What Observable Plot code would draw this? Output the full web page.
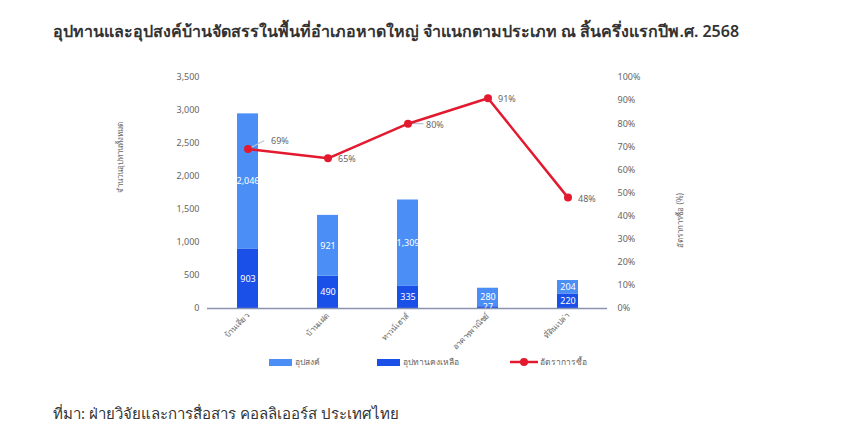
<!DOCTYPE html>
<html><head><meta charset="utf-8">
<script src="https://cdn.jsdelivr.net/npm/d3@7"></script>
<script src="https://cdn.jsdelivr.net/npm/@observablehq/plot@0.6"></script>
<style>
body{margin:0;background:#fff;font-family:"Noto Sans","DejaVu Sans",sans-serif;}
#wrap{position:relative;width:850px;height:442px;overflow:hidden;}
#title{position:absolute;left:53px;top:19px;font-size:16px;font-weight:600;color:#333;white-space:nowrap;}
#chart{position:absolute;left:0;top:60px;}
#legend{position:absolute;top:355px;left:0;width:850px;height:14px;font-size:8.5px;color:#666;}
#legend .item{position:absolute;display:flex;align-items:center;height:14px;}
#legend .sw{width:23px;height:7px;margin-right:3px;}
#source{position:absolute;left:53px;top:402px;font-size:15px;color:#333;white-space:nowrap;}
</style></head>
<body>
<div id="wrap">
  <div id="title"></div>
  <div id="chart"></div>
  <div id="legend"></div>
  <div id="source"></div>
</div>
<script>
const titleText = "อุปทานและอุปสงค์บ้านจัดสรรในพื้นที่อำเภอหาดใหญ่ จำแนกตามประเภท ณ สิ้นครึ่งแรกปีพ.ศ. 2568";
const sourceText = "ที่มา: ฝ่ายวิจัยและการสื่อสาร คอลลิเออร์ส ประเทศไทย";
const categories = ["บ้านเดี่ยว","บ้านแฝด","ทาวน์เฮาส์","อาคารพาณิชย์","ที่ดินเปล่า"];
const seriesNames = ["อุปสงค์","อุปทานคงเหลือ","อัตราการซื้อ"];
const supplyRemaining = [903, 490, 335, 27, 220];
const demand = [2046, 921, 1309, 280, 204];
const purchaseRate = [69, 65, 80, 91, 48];
const leftTicks = [0, 500, 1000, 1500, 2000, 2500, 3000, 3500];
const rightTicks = [0, 10, 20, 30, 40, 50, 60, 70, 80, 90, 100];
const leftTitle = "จำนวนอุปทานทั้งหมด";
const rightTitle = "อัตราการซื้อ (%)";

const colors = {light:"#4b8ff6", dark:"#1a4fe8", red:"#e3192f", grey:"#666", leader:"#b8c4d6"};
const leftMax = 3500, rightMax = 100;
const toLeft = v => v * leftMax / rightMax;

document.getElementById("title").textContent = titleText;
document.getElementById("source").textContent = sourceText;

const rows = [];
categories.forEach((c, i) => {
  rows.push({cat: c, series: seriesNames[1], value: supplyRemaining[i]});
  rows.push({cat: c, series: seriesNames[0], value: demand[i]});
});
const rateRows = categories.map((c, i) => ({cat: c, rate: purchaseRate[i], idx: i}));
// labels that use a callout leader (first and third points), others placed plainly
const calloutUp = rateRows.filter(d => d.idx === 0);
const calloutRight = rateRows.filter(d => d.idx === 2);
const plainLabels = rateRows.filter(d => d.idx !== 0 && d.idx !== 2);

const stackOpts = {x: "cat", y: "value", z: "series", order: [seriesNames[1], seriesNames[0]]};
const leaderShape = {draw(context, l) { context.moveTo(0, 0); context.lineTo(0, -l); }};
const yRate = d => toLeft(d.rate);

const chart = Plot.plot({
  width: 850,
  height: 320,
  marginLeft: 207,
  marginRight: 243,
  marginTop: 17,
  marginBottom: 72,
  style: {fontFamily: "'Noto Sans','DejaVu Sans',sans-serif", fontSize: "9px", color: colors.grey, background: "transparent"},
  x: {type: "band", domain: categories, paddingInner: 0.74, paddingOuter: 0.37, label: null},
  y: {domain: [0, leftMax], label: null},
  color: {domain: [seriesNames[0], seriesNames[1]], range: [colors.light, colors.dark]},
  marks: [
    Plot.barY(rows, Plot.stackY({...stackOpts, fill: "series"})),
    Plot.text(rows, Plot.stackY({...stackOpts, text: d => d3.format(",")(d.value), fill: "white", fontSize: 9})),
    Plot.ruleY([0], {stroke: "#8a93b2", strokeWidth: 1.5}),
    Plot.axisY(leftTicks, {anchor: "left", tickSize: 0, tickPadding: 8, tickFormat: d3.format(","), label: null}),
    Plot.axisY(rightTicks.map(toLeft), {anchor: "right", tickSize: 0, tickPadding: 10, tickFormat: d => Math.round(d * rightMax / leftMax) + "%", label: null}),
    Plot.axisX({tickSize: 0, tickPadding: 6, tickRotate: -45, fontSize: 8, label: null}),
    Plot.text([leftTitle], {frameAnchor: "left", dx: -87, rotate: -90, fontSize: 8, fill: colors.grey}),
    Plot.text([rightTitle], {frameAnchor: "right", dx: 73, rotate: -90, fontSize: 8, fill: colors.grey}),
    Plot.vector(calloutUp, {x: "cat", y: yRate, length: 18, rotate: 62, anchor: "start", shape: leaderShape, stroke: colors.leader, strokeWidth: 1.2}),
    Plot.vector(calloutRight, {x: "cat", y: yRate, length: 15, rotate: 90, anchor: "start", shape: leaderShape, stroke: colors.leader, strokeWidth: 1.2}),
    Plot.line(rateRows, {x: "cat", y: yRate, stroke: colors.red, strokeWidth: 2.5}),
    Plot.dot(rateRows, {x: "cat", y: yRate, fill: colors.red, r: 4}),
    Plot.text(calloutUp, {x: "cat", y: yRate, text: d => d.rate + "%", textAnchor: "start", dx: 23, dy: -8, fontSize: 9, fill: colors.grey}),
    Plot.text(calloutRight, {x: "cat", y: yRate, text: d => d.rate + "%", textAnchor: "start", dx: 18, dy: 1, fontSize: 9, fill: colors.grey}),
    Plot.text(plainLabels, {x: "cat", y: yRate, text: d => d.rate + "%", textAnchor: "start", dx: 10, dy: 1, fontSize: 9, fill: colors.grey})
  ]
});
document.getElementById("chart").appendChild(chart);

const legend = document.getElementById("legend");
const items = [
  {name: seriesNames[0], left: 269, type: "bar", color: colors.light},
  {name: seriesNames[1], left: 377, type: "bar", color: colors.dark},
  {name: seriesNames[2], left: 510, type: "line", color: colors.red}
];
items.forEach(it => {
  const d = document.createElement("div");
  d.className = "item";
  d.style.left = it.left + "px";
  if (it.type === "bar") {
    const s = document.createElement("span");
    s.className = "sw"; s.style.background = it.color;
    d.appendChild(s);
  } else {
    const s = document.createElementNS("http://www.w3.org/2000/svg", "svg");
    s.setAttribute("width", 28); s.setAttribute("height", 10);
    s.style.marginRight = "2px";
    s.innerHTML = `<line x1="0" x2="28" y1="5" y2="5" stroke="${it.color}" stroke-width="2.5"/><circle cx="14" cy="5" r="4" fill="${it.color}"/>`;
    d.appendChild(s);
  }
  const t = document.createElement("span");
  t.textContent = it.name;
  d.appendChild(t);
  legend.appendChild(d);
});
</script>
</body></html>
